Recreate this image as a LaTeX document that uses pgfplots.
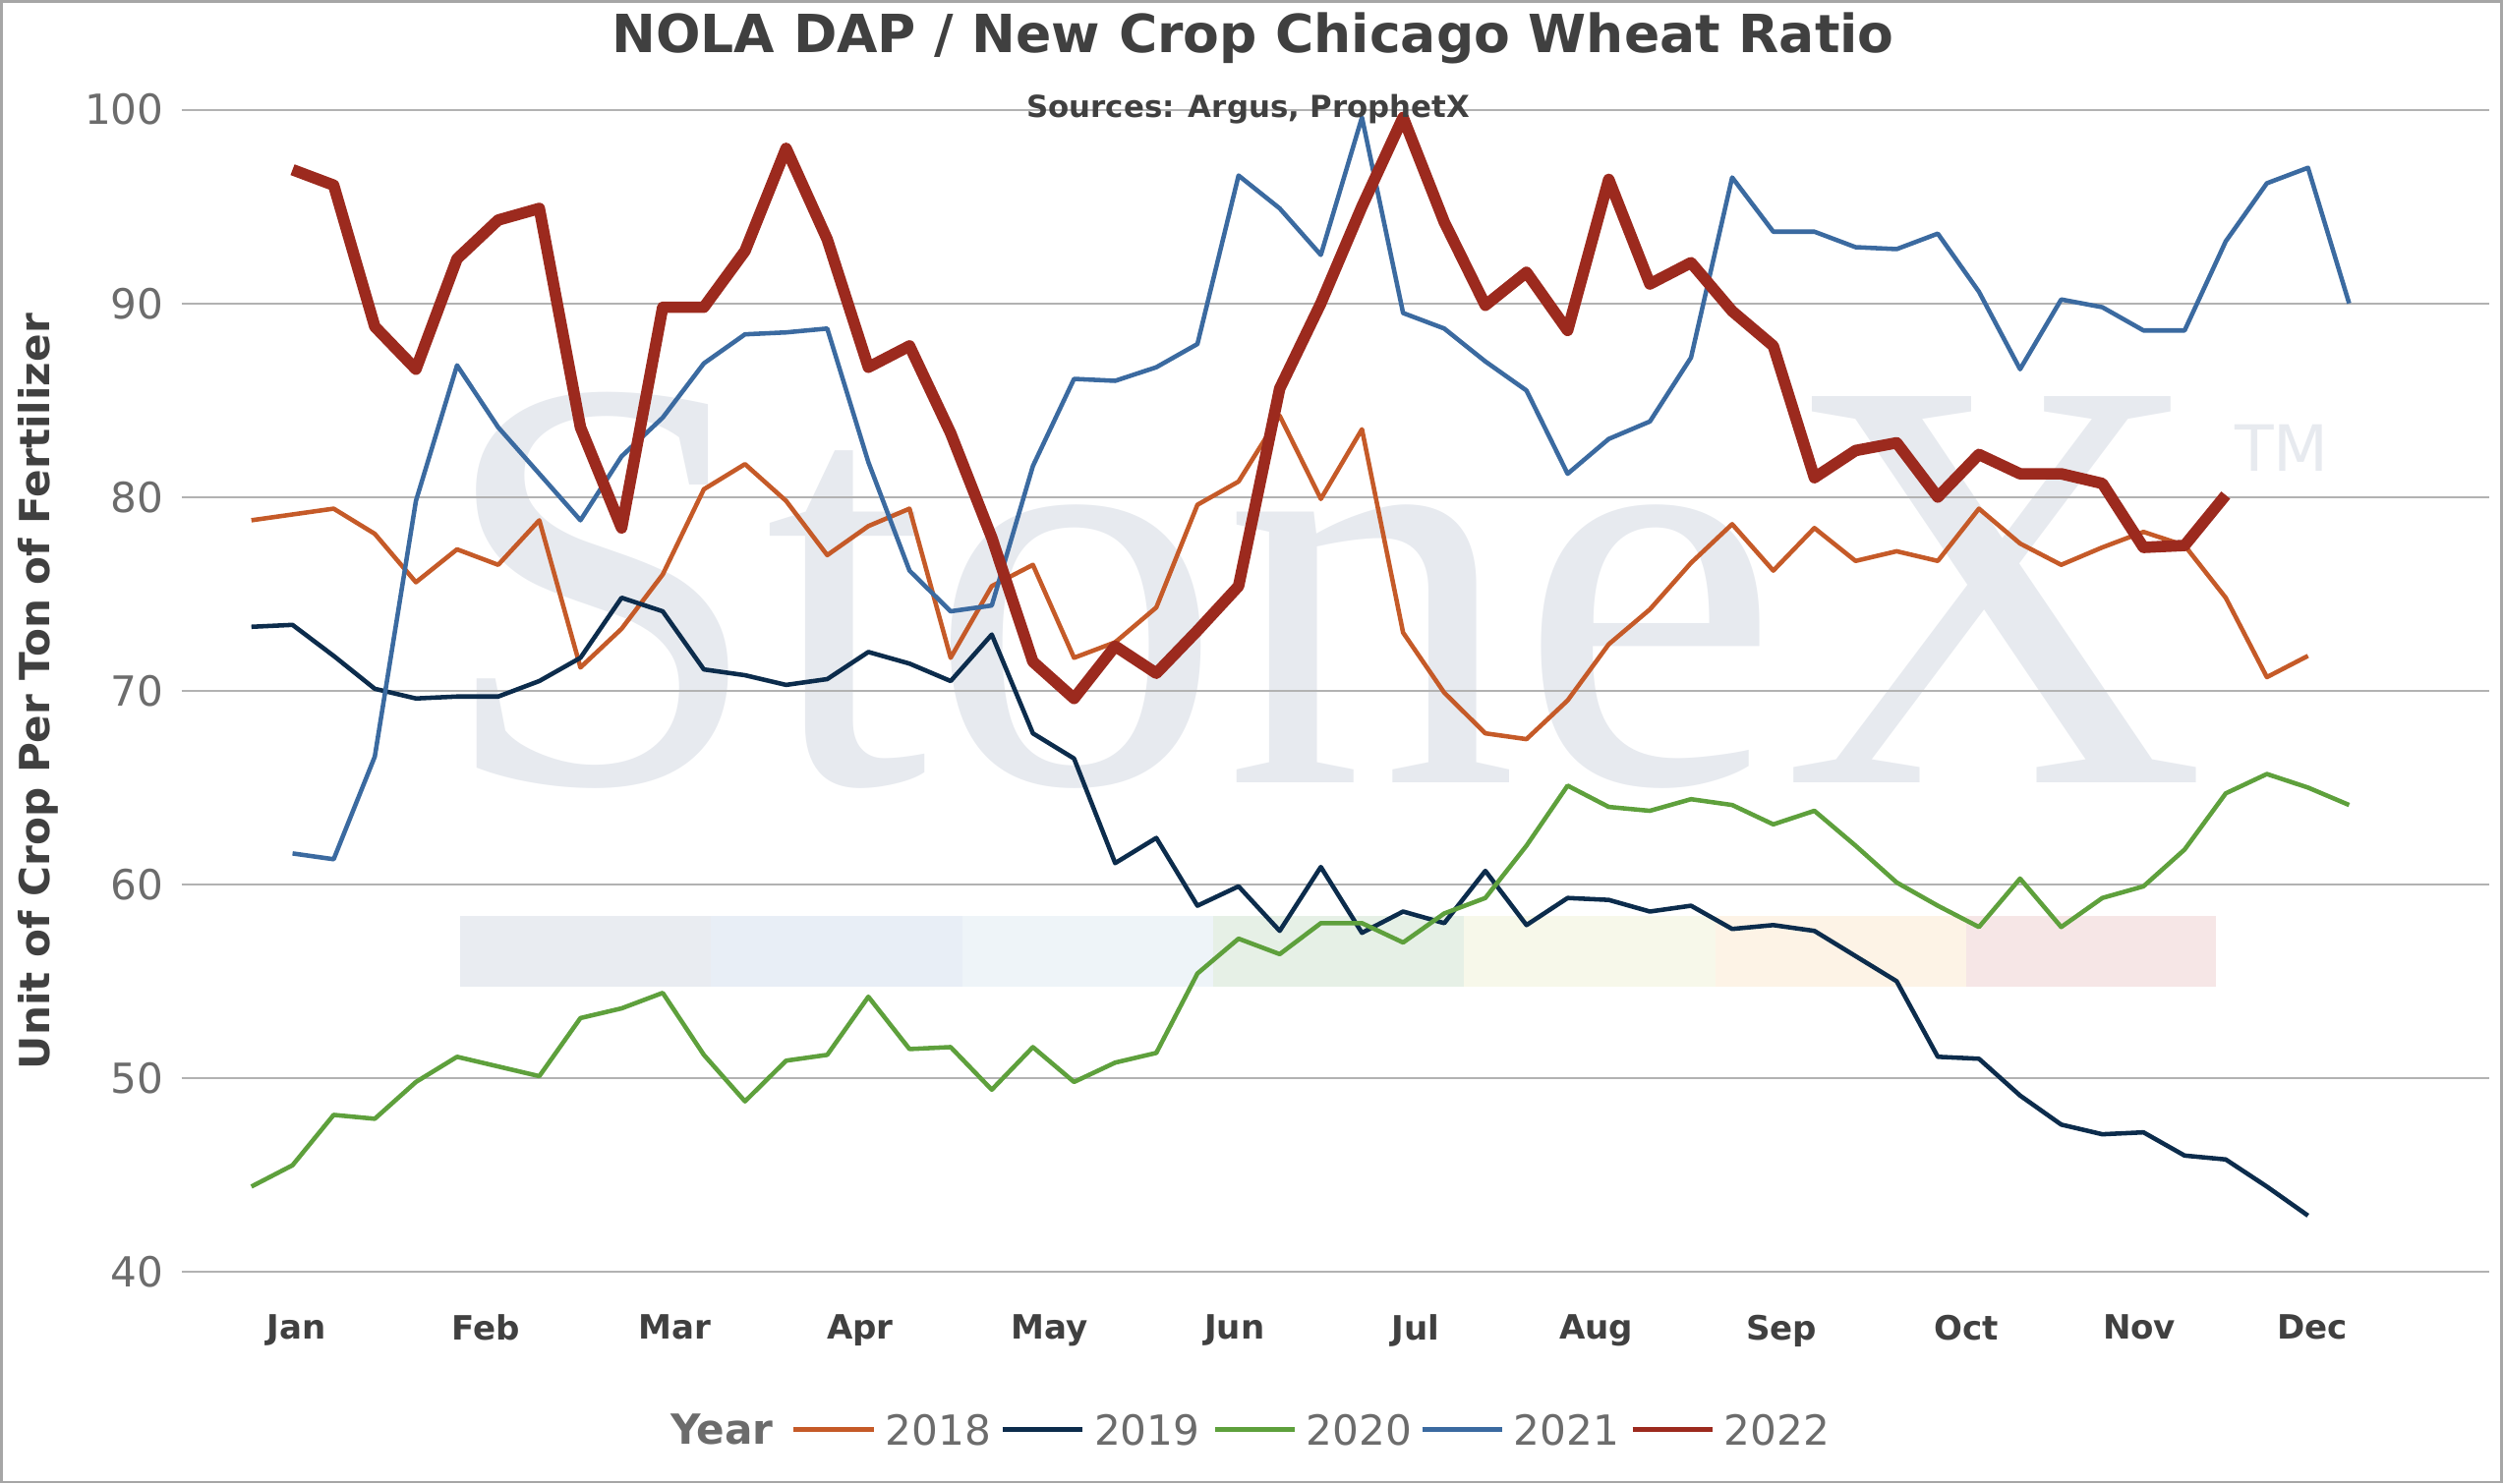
\documentclass[border=0pt]{standalone}
\usepackage{pgfplots}
\pgfplotsset{compat=1.18}
\usepackage{fontspec}
\setmainfont{DejaVu Sans}
\newfontfamily\wm{Liberation Serif}
\definecolor{c18}{HTML}{C55A28}
\definecolor{c19}{HTML}{0C2C4C}
\definecolor{c20}{HTML}{5EA03C}
\definecolor{c21}{HTML}{3B6AA0}
\definecolor{c22}{HTML}{9C2A1E}
\definecolor{tx}{HTML}{404040}
\definecolor{wmc}{HTML}{E7EAEF}
\begin{document}
\begin{tikzpicture}[x=1pt,y=1pt]
\draw[gray!70,line width=0.8pt] (0,0) rectangle (784,464.5);
\node[anchor=base,text=wmc,font=\wm\fontsize{185}{185}\selectfont] at (414,219.5) {StoneX};
\node[anchor=base,text=wmc,font=\fontsize{20}{20}\selectfont] at (715,317) {TM};
\foreach \a/\b/\c in {144/222.5/E9ECF1,222.5/301.5/E8EEF6,301.5/380/EEF4F8,380/458.5/E6F0E6,458.5/537.5/F7F8EA,537.5/616/FDF3E6,616/694.5/F6E6E6}{
  \definecolor{bc}{HTML}{\c}\fill[bc] (\a,155.5) rectangle (\b,177.5);}
\begin{axis}[at={(56.5pt,66pt)},anchor=south west,scale only axis,
 width=723.5pt,height=364.5pt,xmin=-1.7,xmax=54.4,ymin=40,ymax=100,
 ytick={40,50,...,100},ymajorgrids,grid style={gray!60,line width=0.6pt},
 axis line style={draw=none},major tick length=0pt,
 yticklabel style={text=gray!85!black,font=\fontsize{13}{13}\selectfont,xshift=-2pt},
 /pgf/number format/assume math mode=true,
 xtick={1.09,5.7,10.3,14.8,19.4,23.9,28.3,32.7,37.2,41.7,45.9,50.1},
 xticklabels={Jan,Feb,Mar,Apr,May,Jun,Jul,Aug,Sep,Oct,Nov,Dec},
 xticklabel style={font=\bfseries\fontsize{10.5}{10.5}\selectfont,text=tx,yshift=-10pt},
 clip=false, line join=round]
\addplot[c18,line width=1.4pt] coordinates {(0,78.8)(1,79.1)(2,79.4)(3,78.1)(4,75.6)(5,77.3)(6,76.5)(7,78.8)(8,71.2)(9,73.2)(10,76.0)(11,80.4)(12,81.7)(13,79.8)(14,77.0)(15,78.5)(16,79.4)(17,71.7)(18,75.4)(19,76.5)(20,71.7)(21,72.5)(22,74.3)(23,79.6)(24,80.8)(25,84.2)(26,79.9)(27,83.5)(28,73.0)(29,69.9)(30,67.8)(31,67.5)(32,69.5)(33,72.4)(34,74.2)(35,76.6)(36,78.6)(37,76.2)(38,78.4)(39,76.7)(40,77.2)(41,76.7)(42,79.4)(43,77.6)(44,76.5)(45,77.4)(46,78.2)(47,77.5)(48,74.8)(49,70.7)(50,71.8)};
\addplot[c19,line width=1.4pt] coordinates {(0,73.3)(1,73.4)(2,71.8)(3,70.1)(4,69.6)(5,69.7)(6,69.7)(7,70.5)(8,71.7)(9,74.8)(10,74.1)(11,71.1)(12,70.8)(13,70.3)(14,70.6)(15,72.0)(16,71.4)(17,70.5)(18,72.9)(19,67.8)(20,66.5)(21,61.1)(22,62.4)(23,58.9)(24,59.9)(25,57.6)(26,60.9)(27,57.5)(28,58.6)(29,58.0)(30,60.7)(31,57.9)(32,59.3)(33,59.2)(34,58.6)(35,58.9)(36,57.7)(37,57.9)(38,57.6)(39,56.3)(40,55.0)(41,51.1)(42,51.0)(43,49.1)(44,47.6)(45,47.1)(46,47.2)(47,46.0)(48,45.8)(49,44.4)(50,42.9)};
\addplot[c20,line width=1.4pt] coordinates {(0,44.4)(1,45.5)(2,48.1)(3,47.9)(4,49.8)(5,51.1)(6,50.6)(7,50.1)(8,53.1)(9,53.6)(10,54.4)(11,51.2)(12,48.8)(13,50.9)(14,51.2)(15,54.2)(16,51.5)(17,51.6)(18,49.4)(19,51.6)(20,49.8)(21,50.8)(22,51.3)(23,55.4)(24,57.2)(25,56.4)(26,58.0)(27,58.0)(28,57.0)(29,58.5)(30,59.3)(31,62.0)(32,65.1)(33,64.0)(34,63.8)(35,64.4)(36,64.1)(37,63.1)(38,63.8)(39,62.0)(40,60.1)(41,58.9)(42,57.8)(43,60.3)(44,57.8)(45,59.3)(46,59.9)(47,61.8)(48,64.7)(49,65.7)(50,65.0)(51,64.1)};
\addplot[c21,line width=1.4pt] coordinates {(1,61.6)(2,61.3)(3,66.6)(4,79.8)(5,86.8)(6,83.6)(7,81.2)(8,78.8)(9,82.1)(10,84.1)(11,86.9)(12,88.4)(13,88.5)(14,88.7)(15,81.8)(16,76.2)(17,74.1)(18,74.4)(19,81.6)(20,86.1)(21,86.0)(22,86.7)(23,87.9)(24,96.6)(25,94.9)(26,92.5)(27,99.6)(28,89.5)(29,88.7)(30,87.0)(31,85.5)(32,81.2)(33,83.0)(34,83.9)(35,87.2)(36,96.5)(37,93.7)(38,93.7)(39,92.9)(40,92.8)(41,93.6)(42,90.6)(43,86.6)(44,90.2)(45,89.8)(46,88.6)(47,88.6)(48,93.2)(49,96.2)(50,97.0)(51,90.0)};
\addplot[c22,line width=3.6pt] coordinates {(1,96.9)(2,96.1)(3,88.8)(4,86.6)(5,92.3)(6,94.3)(7,94.9)(8,83.6)(9,78.4)(10,89.8)(11,89.8)(12,92.7)(13,98.0)(14,93.3)(15,86.7)(16,87.8)(17,83.3)(18,77.9)(19,71.5)(20,69.6)(21,72.3)(22,70.9)(23,73.1)(24,75.4)(25,85.6)(26,90.0)(27,95.0)(28,99.6)(29,94.2)(30,89.9)(31,91.6)(32,88.6)(33,96.4)(34,91.0)(35,92.1)(36,89.6)(37,87.8)(38,81.0)(39,82.4)(40,82.8)(41,80.0)(42,82.2)(43,81.2)(44,81.2)(45,80.7)(46,77.4)(47,77.5)(48,80.1)};
\end{axis}
\node[font=\bfseries\fontsize{16.5}{16.5}\selectfont,text=tx] at (392.5,453) {NOLA DAP / New Crop Chicago Wheat Ratio};
\node[font=\bfseries\fontsize{9.5}{9.5}\selectfont,text=tx] at (391,430.5) {Sources: Argus, ProphetX};
\node[rotate=90,font=\bfseries\fontsize{13}{13}\selectfont,text=tx] at (11.5,248) {Unit of Crop Per Ton of Fertilizer};
\node[font=\bfseries\fontsize{13}{13}\selectfont,text=gray!85!black] at (226,16.5) {Year};
\foreach \x/\c/\t in {248.5/c18/2018,314/c19/2019,380.5/c20/2020,445.5/c21/2021,511.5/c22/2022}{
 \draw[\c,line width=1.4pt] (\x,16.5) -- (\x+25,16.5);
 \node[anchor=west,font=\fontsize{13}{13}\selectfont,text=gray!85!black,inner sep=0pt] at (\x+28.5,16.5) {\t};}
\end{tikzpicture}
\end{document}
